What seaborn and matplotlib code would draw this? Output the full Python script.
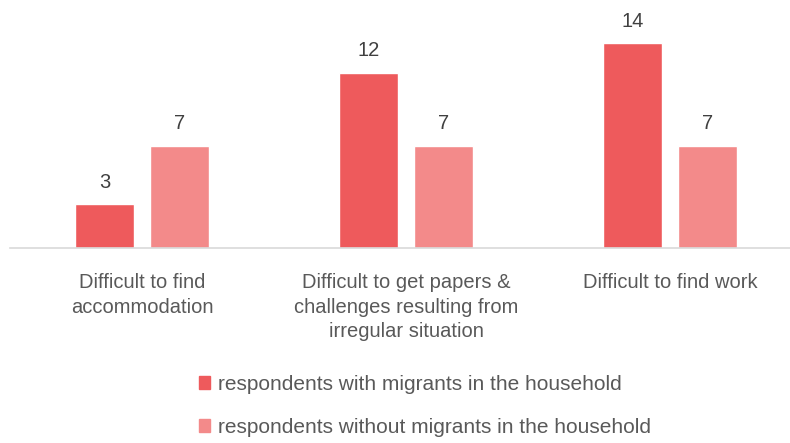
import pandas as pd
import numpy as np
import matplotlib
matplotlib.use("Agg")
import matplotlib.pyplot as plt
import matplotlib.font_manager as fm
import seaborn as sns

categories = ["Difficult to find\naccommodation",
              "Difficult to get papers &\nchallenges resulting from\nirregular situation",
              "Difficult to find work"]
series_names = ["respondents with migrants in the household",
                "respondents without migrants in the household"]
with_migrants = [3, 12, 14]
without_migrants = [7, 7, 7]
colors = ["#EE5A5C", "#F38A8A"]

df = pd.DataFrame({
    "category": categories * 2,
    "group": [series_names[0]] * 3 + [series_names[1]] * 3,
    "value": with_migrants + without_migrants,
})

sns.set_style("white")
names = {f.name for f in fm.fontManager.ttflist}
fam = "Liberation Sans Narrow" if "Liberation Sans Narrow" in names else "Liberation Sans"
plt.rcParams["font.family"] = [fam, "DejaVu Sans"]

fig = plt.figure(figsize=(7.9, 4.43), dpi=100)
ax = fig.add_axes([10 / 790, 1 - 248 / 443, 792 / 790, 234 / 443])

sns.barplot(data=df, x="category", y="value", hue="group", palette=colors,
            width=0.568, gap=0.21, ax=ax, legend=False, saturation=1)

ax.set_ylim(0, 16)
ax.set_xlim(-0.5, 2.5)
ax.set_xlabel("")
ax.set_ylabel("")
ax.set_yticks([])
for s in ["top", "right", "left"]:
    ax.spines[s].set_visible(False)
ax.spines["bottom"].set_color("#D9D9D9")
ax.spines["bottom"].set_linewidth(1.2)
ax.tick_params(axis="x", length=0, pad=18, labelsize=14.5, colors="#595959")
for lbl in ax.get_xticklabels():
    lbl.set_linespacing(1.38)

for cont in ax.containers:
    ax.bar_label(cont, padding=9, fontsize=14.5, color="#404040")

handles = [plt.Rectangle((0, 0), 1, 1, color=c) for c in colors]
fig.legend(handles, series_names, loc="upper left",
           bbox_to_anchor=(180 / 790, 1 - 356 / 443), frameon=False,
           handlelength=0.55, handleheight=0.55, handletextpad=0.35,
           labelspacing=1.15, fontsize=15, labelcolor="#595959")

fig.savefig("out.png", dpi=100)
